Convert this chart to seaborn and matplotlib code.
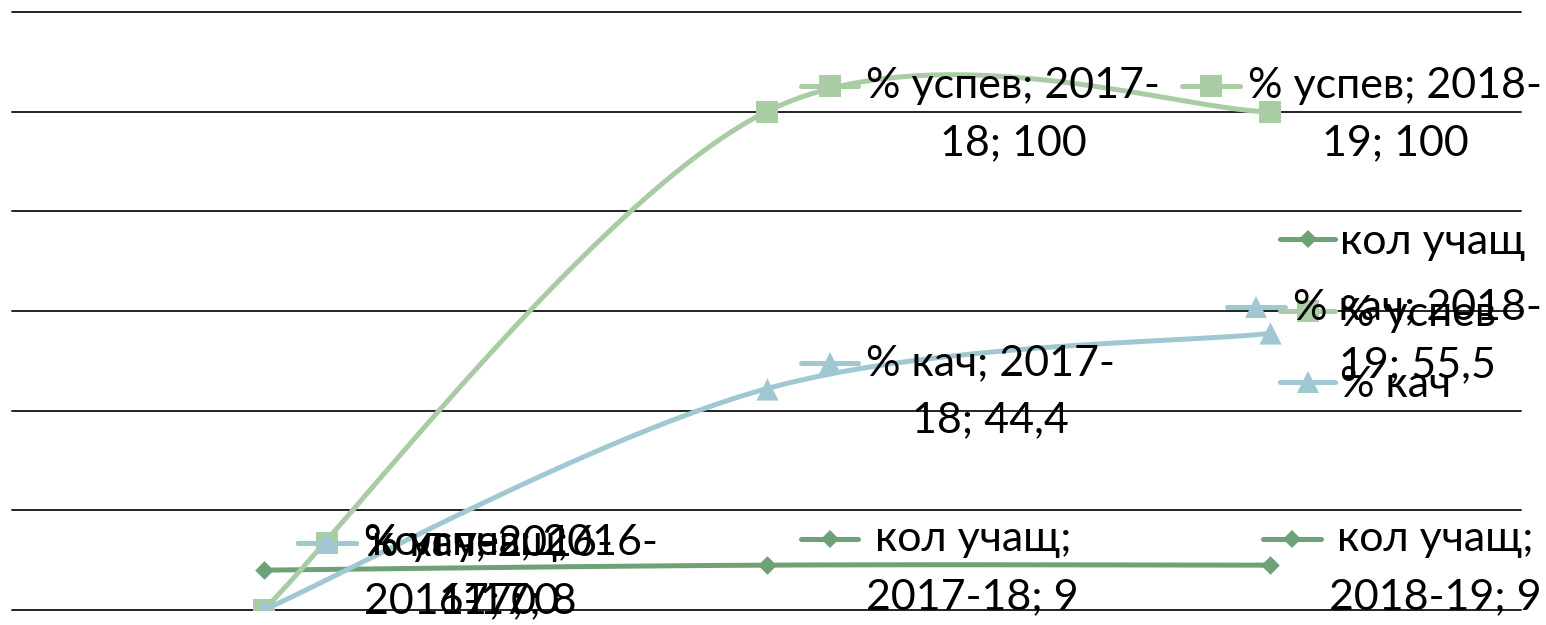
import re
import matplotlib
matplotlib.use('Agg')
import matplotlib.pyplot as plt
from matplotlib.lines import Line2D
import numpy as np
import seaborn as sns

# data
years = ['2016-17', '2017-18', '2018-19']
kol_uchashch = [8, 9, 9]
pct_uspev = [0, 100, 100]
pct_kach = [0, 44.4, 55.5]
series_names = ['кол учащ', '% успев', '% кач']
y_ticks = [0, 20, 40, 60, 80, 100, 120]

colors = ['#6FA177', '#A9CCA4', '#9FC8D2']
markers = ['D', 's', '^']
marker_px = [9.5, 15.5, 16.0]

sns.set_style('white')
plt.rcParams['font.family'] = ['Lato', 'DejaVu Sans']
plt.rcParams['text.color'] = 'black'
FONT_SIZE = 31

W, H = 1546, 625


def smooth_curve(xs, ys, steps=60):
    """Excel-style smoothed line (Catmull-Rom bezier through the points)."""
    pts = np.column_stack([xs, ys]).astype(float)
    ext = np.vstack([pts[0], pts, pts[-1]])
    out = []
    for i in range(len(pts) - 1):
        p0, p1, p2, p3 = ext[i], ext[i + 1], ext[i + 2], ext[i + 3]
        c1 = p1 + (p2 - p0) / 6
        c2 = p2 - (p3 - p1) / 6
        t = np.linspace(0, 1, steps)[:, None]
        seg = ((1 - t) ** 3 * p1 + 3 * (1 - t) ** 2 * t * c1
               + 3 * (1 - t) * t ** 2 * c2 + t ** 3 * p2)
        out.append(seg if i == 0 else seg[1:])
    out = np.vstack(out)
    return out[:, 0], out[:, 1]


def fmt_value(v):
    return f'{v:g}'.replace('.', ',')


def wrap_label(s, width=14):
    tokens = re.split(r'(?<=[- ])', s)
    lines, cur = [], ''
    for tok in tokens:
        if cur and len((cur + tok).rstrip()) > width:
            lines.append(cur.rstrip())
            cur = tok
        else:
            cur += tok
    lines.append(cur.rstrip())
    return '\n'.join(lines)


fig = plt.figure(figsize=(W / 100, H / 100), dpi=100)
ax = fig.add_axes([12 / W, (H - 610) / H, 1509 / W, 598 / H])

x_pos = np.arange(len(years))
all_series = [kol_uchashch, pct_uspev, pct_kach]

for k, (name, vals) in enumerate(zip(series_names, all_series)):
    sx, sy = smooth_curve(x_pos, vals)
    ax.plot(sx, sy, color=colors[k], lw=3.6, solid_capstyle='round', zorder=3 + k)
    sns.scatterplot(x=x_pos, y=vals, marker=markers[k], s=marker_px[k] ** 2,
                    color=colors[k], linewidth=0, ax=ax, zorder=3.5 + k, legend=False)

ax.set_xlim(-0.5, len(years) - 0.5)
ax.set_ylim(y_ticks[0], y_ticks[-1])
for yt in y_ticks:
    ax.axhline(yt, color='#111111', lw=1.3, zorder=1, clip_on=False)
ax.set_xticks([])
ax.set_yticks([])
sns.despine(ax=ax, left=True, bottom=True)

# legend on the right
handles = [Line2D([0], [0], color=c, lw=3.6, marker=m, markersize=ms, markeredgewidth=0)
           for c, m, ms in zip(colors, markers, marker_px)]
ax.legend(handles, series_names, loc='upper left', frameon=False,
          bbox_to_anchor=(1280 / W, (H - 223) / H), bbox_transform=fig.transFigure,
          fontsize=FONT_SIZE, handlelength=1.28, handletextpad=0.12,
          labelspacing=0.78, borderpad=0, borderaxespad=0, labelcolor='black')

# data labels with legend keys
fig.canvas.draw()
renderer = fig.canvas.get_renderer()
for k, (name, vals) in enumerate(zip(series_names, all_series)):
    for i, (year, v) in enumerate(zip(years, vals)):
        px, py = ax.transData.transform((x_pos[i], v))
        cy = min(H - py + 3, H - 53)
        left = px + 100
        txt = fig.text(left / W, (H - cy) / H, wrap_label(f'{name}; {year}; {fmt_value(v)}'),
                       ha='left', va='center', multialignment='center',
                       fontsize=FONT_SIZE, linespacing=1.63, zorder=10)
        bb = txt.get_window_extent(renderer)
        if left + bb.width > 1542:
            left = 1542 - bb.width
            txt.set_x(left / W)
        ky = H - (cy - 29)
        fig.add_artist(Line2D([(left - 66) / W, (left - 8) / W], [ky / H, ky / H],
                              color=colors[k], lw=3.6, solid_capstyle='round', zorder=9))
        fig.add_artist(Line2D([(left - 37) / W], [ky / H], marker=markers[k],
                              markersize=marker_px[k], markeredgewidth=0,
                              color=colors[k], zorder=9))

fig.savefig('out.png', dpi=100)
